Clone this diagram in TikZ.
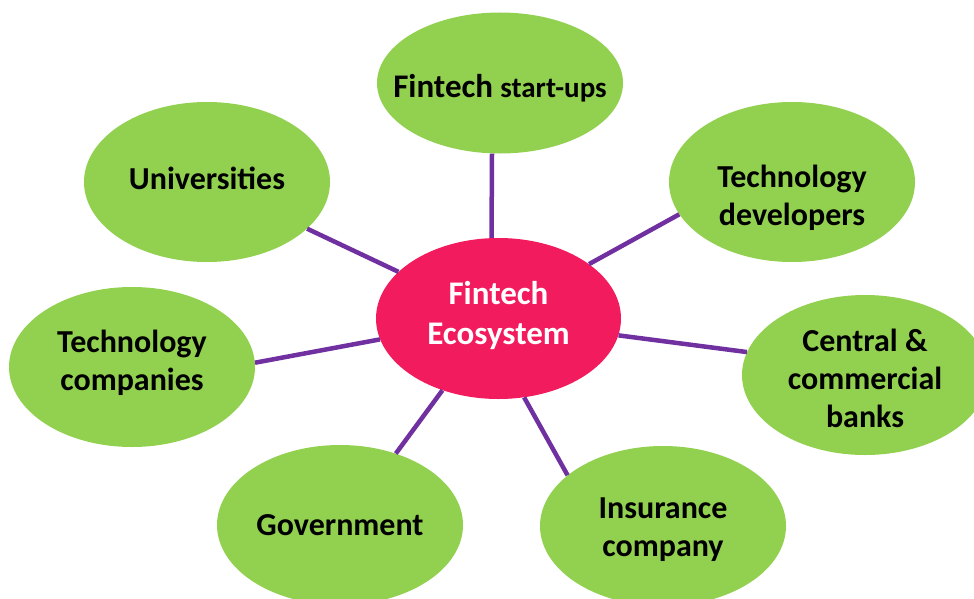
\documentclass[tikz,border=0pt]{standalone}
\usepackage{fontspec}
\setmainfont{Carlito}
\usetikzlibrary{shapes.geometric}
\definecolor{leaf}{HTML}{92D050}
\definecolor{hub}{HTML}{F21B5E}
\definecolor{spoke}{HTML}{7030A0}
\begin{document}
\begin{tikzpicture}[x=1pt,y=-1pt,
  bubble/.style={ellipse, fill=leaf, minimum width=246pt, minimum height=160pt, inner sep=0pt},
  hubnode/.style={bubble, fill=hub, minimum width=245pt, minimum height=161pt},
  lab/.style={inner sep=0pt, align=center, font=\fontsize{32}{38}\selectfont\bfseries},
  hublab/.style={lab, text=white, font=\fontsize{33}{40}\selectfont\bfseries},
  link/.style={draw=spoke, line width=4.5pt}]
\useasboundingbox (0,0) rectangle (974,599);
\node[hubnode, label={[hublab, yshift=3pt]center:{Fintech\\Ecosystem}}] (eco) at (498.5,318.5) {};
\node[bubble, minimum height=141pt, label={[lab, yshift=-5pt]center:{{\fontsize{33}{38}\selectfont Fintech} {\fontsize{29}{38}\selectfont start-ups}}}] (start) at (500,83) {};
\node[bubble, label={[lab, yshift=4pt]center:{Universities}}] (uni) at (207,182) {};
\node[bubble, label={[lab, yshift=-16pt]center:{Technology\\developers}}] (tdev) at (792,182) {};
\node[bubble, label={[lab, yshift=4pt]center:{Technology\\companies}}] (tcom) at (132,367) {};
\node[bubble, label={[lab, yshift=-3pt]center:{Central \&\\commercial\\banks}}] (bank) at (865,375) {};
\node[bubble, label={[lab]center:{Government}}] (gov) at (340,525) {};
\node[bubble, label={[lab, yshift=-4pt]center:{Insurance\\company}}] (ins) at (663,526) {};
\draw[link] ([xshift=-8pt]start.south) -- ([xshift=-7pt]eco.north);
\draw[link] (uni.-25.6) -- (eco.155.7);
\draw[link] (tdev.196.7) -- (eco.31);
\draw[link] (tcom.2.3) -- (eco.190.3);
\draw[link] (bank.169) -- (eco.-8.6);
\draw[link] (gov.52.3) -- (eco.232.4);
\draw[link] (ins.152.5) -- (eco.-72);
\end{tikzpicture}
\end{document}
